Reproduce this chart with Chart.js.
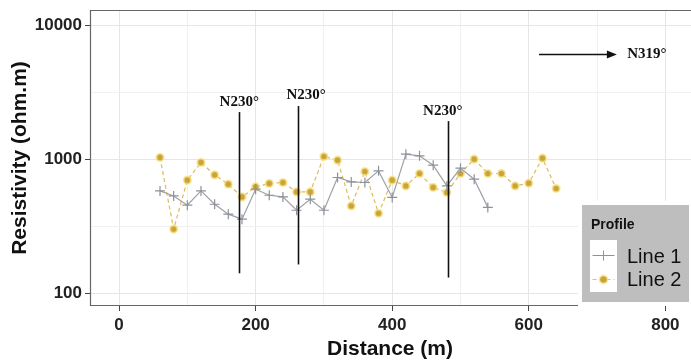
<!DOCTYPE html>
<html>
<head>
<meta charset="utf-8">
<script src="https://cdn.jsdelivr.net/npm/chart.js@4.4.1/dist/chart.umd.min.js"></script>
<style>
  html, body { margin: 0; padding: 0; background: #fff; }
  #wrap { width: 691px; height: 363px; }
</style>
</head>
<body>
<div id="wrap"><canvas id="myChart" width="691" height="363"></canvas></div>
<script>
// resistivity profiles, distance in m, resistivity in ohm.m
const line1Dist = [60, 80, 100, 120, 140, 160, 180, 200, 220, 240, 260, 280, 300, 320, 340, 360, 380, 400, 420, 440, 460, 480, 500, 520, 540];
const line1Res  = [580, 532, 454, 580, 461, 389, 357, 597, 538, 523, 416, 503, 416, 730, 677, 670, 818, 518, 1090, 1058, 902, 632, 857, 709, 437];

const line2Dist = [60, 80, 100, 120, 140, 160, 180, 200, 220, 240, 260, 280, 300, 320, 340, 360, 380, 400, 420, 440, 460, 480, 500, 520, 540, 560, 580, 600, 620, 640];
const line2Res  = [1030, 301, 697, 945, 763, 651, 523, 621, 659, 670, 570, 570, 1047, 983, 448, 809, 395, 697, 632, 782, 615, 564, 782, 1000, 782, 782, 632, 662, 1017, 604];

// strike markers (N230°) drawn as vertical bars
const strikeDist   = [176, 262, 481];
const strikeTop    = [2244, 2488, 1922];
const strikeBottom = [141, 164, 131];
const strikeLabelDist = [176, 274, 474];
const strikeLabelRes  = [2659, 3004, 2281];
const strikeLabel = 'N230°';

// profile direction arrow
const arrowFrom = [615, 6085];
const arrowTo   = [729, 6085];
const arrowLabelPos = [744, 6085];
const arrowLabel = 'N319°';

const xTicks = [0, 100, 200, 300, 400, 500, 600, 700, 800];
const yTicks = [100, 316.23, 1000, 3162.3, 10000];

const GOLD = '#c9a43a';
const GREY = '#8d9199';

function isMajorX(v) { return v % 200 === 0; }
function isMajorY(v) { return [100, 1000, 10000].includes(v); }

const annotations = {
  id: 'annotations',
  afterDatasetsDraw(chart) {
    const { ctx, chartArea: a, scales: { x, y } } = chart;
    ctx.save();

    // panel border (left, top, bottom)
    ctx.strokeStyle = '#666';
    ctx.lineWidth = 1.2;
    ctx.beginPath();
    ctx.moveTo(a.right, a.top + 0.5);
    ctx.lineTo(a.left + 0.5, a.top + 0.5);
    ctx.lineTo(a.left + 0.5, a.bottom - 0.5);
    ctx.lineTo(a.right, a.bottom - 0.5);
    ctx.stroke();

    // strike bars
    ctx.strokeStyle = '#111';
    ctx.lineWidth = 1.6;
    strikeDist.forEach((d, i) => {
      const px = Math.round(x.getPixelForValue(d)) + 0.5;
      ctx.beginPath();
      ctx.moveTo(px, y.getPixelForValue(strikeTop[i]));
      ctx.lineTo(px, y.getPixelForValue(strikeBottom[i]));
      ctx.stroke();
    });
    ctx.fillStyle = '#111';
    ctx.font = 'bold 15px "Liberation Serif", "Times New Roman", serif';
    ctx.textAlign = 'center';
    ctx.textBaseline = 'middle';
    strikeLabelDist.forEach((d, i) => {
      ctx.fillText(strikeLabel, x.getPixelForValue(d), y.getPixelForValue(strikeLabelRes[i]));
    });

    // direction arrow
    const ax0 = x.getPixelForValue(arrowFrom[0]);
    const ay = Math.round(y.getPixelForValue(arrowFrom[1])) + 0.5;
    const ax1 = x.getPixelForValue(arrowTo[0]);
    ctx.lineWidth = 1.5;
    ctx.beginPath();
    ctx.moveTo(ax0, ay);
    ctx.lineTo(ax1 - 8, ay);
    ctx.stroke();
    ctx.beginPath();
    ctx.moveTo(ax1, ay);
    ctx.lineTo(ax1 - 10, ay - 4);
    ctx.lineTo(ax1 - 10, ay + 4);
    ctx.closePath();
    ctx.fill();
    ctx.textAlign = 'left';
    ctx.fillText(arrowLabel, x.getPixelForValue(arrowLabelPos[0]), y.getPixelForValue(arrowLabelPos[1]));

    ctx.restore();
  },
  afterDraw(chart) {
    const { ctx, chartArea: a } = chart;
    ctx.save();

    // axis titles
    ctx.fillStyle = '#111';
    ctx.font = 'bold 21px "Liberation Sans", Arial, sans-serif';
    ctx.textAlign = 'center';
    ctx.textBaseline = 'alphabetic';
    ctx.fillText('Distance (m)', 390, 355);
    ctx.translate(26, (a.top + a.bottom) / 2);
    ctx.rotate(-Math.PI / 2);
    ctx.fillText('Resistivity (ohm.m)', 0, 0);
    ctx.setTransform(1, 0, 0, 1, 0, 0);

    // legend
    const lx = 582, ly = 205, lw = 107, lh = 97;
    ctx.fillStyle = '#fff';
    ctx.fillRect(lx - 4, ly - 4, lw + 8, lh + 8);
    ctx.fillStyle = '#bebebe';
    ctx.fillRect(lx, ly, lw, lh);
    ctx.fillStyle = '#111';
    ctx.font = 'bold 14px "Liberation Sans", Arial, sans-serif';
    ctx.textAlign = 'left';
    ctx.fillText('Profile', lx + 9, ly + 24);
    ctx.fillStyle = '#fff';
    ctx.fillRect(lx + 8, ly + 35, 27, 52);

    const kx = lx + 21.5;
    // Line 1 key
    let ky = ly + 50.5;
    ctx.strokeStyle = GREY;
    ctx.lineWidth = 1;
    ctx.beginPath();
    ctx.moveTo(kx - 11, ky); ctx.lineTo(kx + 11, ky);
    ctx.moveTo(kx, ky - 5); ctx.lineTo(kx, ky + 5);
    ctx.stroke();
    // Line 2 key
    ky = ly + 74.5;
    ctx.strokeStyle = '#e3c463';
    ctx.setLineDash([4, 3]);
    ctx.beginPath();
    ctx.moveTo(kx - 11, ky); ctx.lineTo(kx + 11, ky);
    ctx.stroke();
    ctx.setLineDash([]);
    ctx.fillStyle = 'rgba(250,226,130,0.7)';
    ctx.beginPath(); ctx.arc(kx, ky, 5, 0, Math.PI * 2); ctx.fill();
    ctx.fillStyle = GOLD;
    ctx.beginPath(); ctx.arc(kx, ky, 3.3, 0, Math.PI * 2); ctx.fill();

    ctx.fillStyle = '#111';
    ctx.font = '20px "Liberation Sans", Arial, sans-serif';
    ctx.fillText('Line 1', lx + 45, ly + 58);
    ctx.fillText('Line 2', lx + 45, ly + 81);

    ctx.restore();
  }
};

const ctx = document.getElementById('myChart').getContext('2d');
const chart = new Chart(ctx, {
  type: 'line',
  data: {
    datasets: [
      {
        label: 'Line 1',
        data: line1Dist.map((d, i) => ({ x: d, y: line1Res[i] })),
        borderColor: '#9da1a8',
        borderWidth: 1.2,
        pointStyle: 'cross',
        pointRadius: 5,
        pointBorderColor: GREY,
        pointBorderWidth: 1.2,
        tension: 0
      },
      {
        label: 'Line 2',
        data: line2Dist.map((d, i) => ({ x: d, y: line2Res[i] })),
        borderColor: '#dcbc5a',
        borderWidth: 1.2,
        borderDash: [4, 3],
        pointStyle: 'circle',
        pointRadius: 3.6,
        pointBackgroundColor: GOLD,
        pointBorderColor: 'rgba(250,226,130,0.7)',
        pointBorderWidth: 2,
        tension: 0
      }
    ]
  },
  options: {
    responsive: false,
    devicePixelRatio: 1,
    animation: false,
    layout: { autoPadding: false, padding: { top: 10, right: 0, bottom: 0, left: 0 } },
    plugins: { legend: { display: false }, tooltip: { enabled: false } },
    scales: {
      x: {
        type: 'linear',
        min: -42.5,
        max: 837.5,
        afterFit(scale) {
          scale.height = 57;
          scale.paddingLeft = 0;
          scale.paddingRight = 0;
        },
        afterBuildTicks(scale) { scale.ticks = xTicks.map(v => ({ value: v })); },
        grid: {
          color: c => isMajorX(c.tick.value) ? '#e6e6e6' : '#f1f1f1',
          tickColor: c => isMajorX(c.tick.value) ? '#444' : 'rgba(0,0,0,0)',
          tickLength: 5,
          drawTicks: true
        },
        border: { display: false },
        ticks: {
          autoSkip: false,
          maxRotation: 0,
          padding: 4,
          color: '#222',
          font: { family: '"Liberation Sans", Arial, sans-serif', size: 17, weight: 'bold' },
          callback: v => isMajorX(v) ? String(v) : ''
        }
      },
      y: {
        type: 'logarithmic',
        min: 80.4,
        max: 12940,
        afterFit(scale) {
          scale.width = 90;
          scale.paddingTop = 0;
          scale.paddingBottom = 0;
        },
        afterBuildTicks(scale) { scale.ticks = yTicks.map(v => ({ value: v })); },
        grid: {
          color: c => isMajorY(c.tick.value) ? '#e6e6e6' : '#f1f1f1',
          tickColor: c => isMajorY(c.tick.value) ? '#444' : 'rgba(0,0,0,0)',
          tickLength: 5
        },
        border: { display: false },
        ticks: {
          autoSkip: false,
          padding: 3,
          color: '#222',
          font: { family: '"Liberation Sans", Arial, sans-serif', size: 17, weight: 'bold' },
          callback: v => isMajorY(v) ? String(v) : ''
        }
      }
    }
  },
  plugins: [annotations]
});
</script>
</body>
</html>
